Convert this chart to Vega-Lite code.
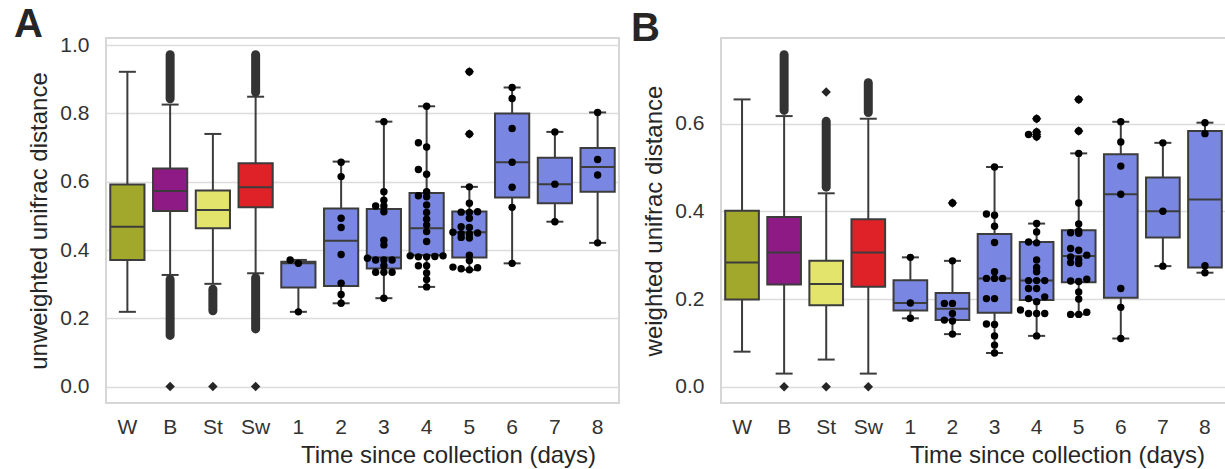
{
  "$schema": "https://vega.github.io/schema/vega-lite/v6.json",
  "padding": {"left": 13, "top": 4, "right": 0, "bottom": 0},
  "bounds": "flush",
  "spacing": 102,
  "config": {
    "font": "Liberation Sans",
    "view": {"stroke": "#d6d6d6", "strokeWidth": 2},
    "axis": {"labelFont": "Liberation Sans", "labelFontSize": 21, "labelColor": "#333333", "titleFont": "Liberation Sans", "titleFontSize": 24, "titleFontWeight": "normal", "titleColor": "#262626", "ticks": false, "domain": false, "gridColor": "#dcdcdc", "gridWidth": 1.5},
    "axisX": {"labelPadding": 13},
    "axisY": {"labelPadding": 17},
    "title": {"font": "Liberation Sans", "fontSize": 40, "fontWeight": "bold", "color": "#262626", "anchor": "start", "frame": "group"}
  },
  "datasets": {
    "boxA": [
      {"g": "W", "lo": 0.219, "q1": 0.371, "med": 0.468, "q3": 0.592, "hi": 0.922},
      {"g": "B", "lo": 0.327, "q1": 0.514, "med": 0.573, "q3": 0.639, "hi": 0.826},
      {"g": "St", "lo": 0.301, "q1": 0.464, "med": 0.517, "q3": 0.574, "hi": 0.740},
      {"g": "Sw", "lo": 0.332, "q1": 0.525, "med": 0.584, "q3": 0.654, "hi": 0.849},
      {"g": "1", "lo": 0.219, "q1": 0.290, "med": 0.361, "q3": 0.366, "hi": 0.371},
      {"g": "2", "lo": 0.244, "q1": 0.295, "med": 0.427, "q3": 0.522, "hi": 0.659},
      {"g": "3", "lo": 0.259, "q1": 0.346, "med": 0.378, "q3": 0.520, "hi": 0.776},
      {"g": "4", "lo": 0.292, "q1": 0.385, "med": 0.464, "q3": 0.567, "hi": 0.821},
      {"g": "5", "lo": 0.342, "q1": 0.378, "med": 0.452, "q3": 0.513, "hi": 0.585},
      {"g": "6", "lo": 0.361, "q1": 0.554, "med": 0.657, "q3": 0.800, "hi": 0.876},
      {"g": "7", "lo": 0.483, "q1": 0.537, "med": 0.593, "q3": 0.670, "hi": 0.746},
      {"g": "8", "lo": 0.421, "q1": 0.571, "med": 0.643, "q3": 0.699, "hi": 0.803}
    ],
    "boxB": [
      {"g": "W", "lo": 0.080, "q1": 0.199, "med": 0.283, "q3": 0.401, "hi": 0.655},
      {"g": "B", "lo": 0.030, "q1": 0.233, "med": 0.306, "q3": 0.387, "hi": 0.617},
      {"g": "St", "lo": 0.062, "q1": 0.186, "med": 0.234, "q3": 0.287, "hi": 0.441},
      {"g": "Sw", "lo": 0.030, "q1": 0.228, "med": 0.306, "q3": 0.382, "hi": 0.611},
      {"g": "1", "lo": 0.156, "q1": 0.174, "med": 0.191, "q3": 0.243, "hi": 0.295},
      {"g": "2", "lo": 0.120, "q1": 0.152, "med": 0.178, "q3": 0.214, "hi": 0.287},
      {"g": "3", "lo": 0.077, "q1": 0.169, "med": 0.247, "q3": 0.348, "hi": 0.501},
      {"g": "4", "lo": 0.116, "q1": 0.198, "med": 0.242, "q3": 0.330, "hi": 0.372},
      {"g": "5", "lo": 0.165, "q1": 0.238, "med": 0.298, "q3": 0.357, "hi": 0.532},
      {"g": "6", "lo": 0.110, "q1": 0.203, "med": 0.439, "q3": 0.530, "hi": 0.604},
      {"g": "7", "lo": 0.275, "q1": 0.340, "med": 0.400, "q3": 0.477, "hi": 0.556},
      {"g": "8", "lo": 0.260, "q1": 0.272, "med": 0.427, "q3": 0.583, "hi": 0.602}
    ],
    "flA": [
      {"g": "B", "lo": 0.843, "hi": 0.972},
      {"g": "B", "lo": 0.150, "hi": 0.314},
      {"g": "St", "lo": 0.222, "hi": 0.285},
      {"g": "Sw", "lo": 0.862, "hi": 0.972},
      {"g": "Sw", "lo": 0.169, "hi": 0.319}
    ],
    "flB": [
      {"g": "B", "lo": 0.630, "hi": 0.757},
      {"g": "St", "lo": 0.455, "hi": 0.605},
      {"g": "Sw", "lo": 0.625, "hi": 0.693}
    ],
    "outA": [
      {"g": "B", "v": 0.0}, {"g": "St", "v": 0.0}, {"g": "Sw", "v": 0.0},
      {"g": "5", "v": 0.922}, {"g": "5", "v": 0.740}
    ],
    "outB": [
      {"g": "B", "v": 0.0}, {"g": "St", "v": 0.0}, {"g": "Sw", "v": 0.0},
      {"g": "St", "v": 0.672}, {"g": "2", "v": 0.419},
      {"g": "4", "v": 0.611}, {"g": "4", "v": 0.581}, {"g": "4", "v": 0.575}, {"g": "4", "v": 0.570},
      {"g": "5", "v": 0.655}, {"g": "5", "v": 0.583}
    ],
    "ptsA": [
      {"g": "1", "v": 0.219}, {"g": "1", "v": 0.361}, {"g": "1", "v": 0.371},
      {"g": "2", "v": 0.244}, {"g": "2", "v": 0.270}, {"g": "2", "v": 0.303}, {"g": "2", "v": 0.387}, {"g": "2", "v": 0.466}, {"g": "2", "v": 0.493}, {"g": "2", "v": 0.615}, {"g": "2", "v": 0.657},
      {"g": "3", "v": 0.259}, {"g": "3", "v": 0.335}, {"g": "3", "v": 0.335}, {"g": "3", "v": 0.335}, {"g": "3", "v": 0.354}, {"g": "3", "v": 0.371}, {"g": "3", "v": 0.371}, {"g": "3", "v": 0.371}, {"g": "3", "v": 0.376}, {"g": "3", "v": 0.415}, {"g": "3", "v": 0.429}, {"g": "3", "v": 0.512}, {"g": "3", "v": 0.529}, {"g": "3", "v": 0.529}, {"g": "3", "v": 0.546}, {"g": "3", "v": 0.571}, {"g": "3", "v": 0.776},
      {"g": "4", "v": 0.292}, {"g": "4", "v": 0.314}, {"g": "4", "v": 0.333}, {"g": "4", "v": 0.354}, {"g": "4", "v": 0.354}, {"g": "4", "v": 0.380}, {"g": "4", "v": 0.380}, {"g": "4", "v": 0.381}, {"g": "4", "v": 0.383}, {"g": "4", "v": 0.383}, {"g": "4", "v": 0.425}, {"g": "4", "v": 0.454}, {"g": "4", "v": 0.473}, {"g": "4", "v": 0.490}, {"g": "4", "v": 0.510}, {"g": "4", "v": 0.532}, {"g": "4", "v": 0.556}, {"g": "4", "v": 0.559}, {"g": "4", "v": 0.571}, {"g": "4", "v": 0.622}, {"g": "4", "v": 0.636}, {"g": "4", "v": 0.702}, {"g": "4", "v": 0.714}, {"g": "4", "v": 0.821},
      {"g": "5", "v": 0.342}, {"g": "5", "v": 0.345}, {"g": "5", "v": 0.348}, {"g": "5", "v": 0.350}, {"g": "5", "v": 0.369}, {"g": "5", "v": 0.385}, {"g": "5", "v": 0.435}, {"g": "5", "v": 0.437}, {"g": "5", "v": 0.447}, {"g": "5", "v": 0.448}, {"g": "5", "v": 0.450}, {"g": "5", "v": 0.452}, {"g": "5", "v": 0.466}, {"g": "5", "v": 0.468}, {"g": "5", "v": 0.493}, {"g": "5", "v": 0.510}, {"g": "5", "v": 0.511}, {"g": "5", "v": 0.512}, {"g": "5", "v": 0.537}, {"g": "5", "v": 0.585}, {"g": "5", "v": 0.740}, {"g": "5", "v": 0.922},
      {"g": "6", "v": 0.361}, {"g": "6", "v": 0.525}, {"g": "6", "v": 0.584}, {"g": "6", "v": 0.657}, {"g": "6", "v": 0.756}, {"g": "6", "v": 0.844}, {"g": "6", "v": 0.876},
      {"g": "7", "v": 0.483}, {"g": "7", "v": 0.593}, {"g": "7", "v": 0.746},
      {"g": "8", "v": 0.421}, {"g": "8", "v": 0.620}, {"g": "8", "v": 0.665}, {"g": "8", "v": 0.803}
    ],
    "ptsB": [
      {"g": "1", "v": 0.156}, {"g": "1", "v": 0.191}, {"g": "1", "v": 0.295},
      {"g": "2", "v": 0.120}, {"g": "2", "v": 0.150}, {"g": "2", "v": 0.152}, {"g": "2", "v": 0.167}, {"g": "2", "v": 0.190}, {"g": "2", "v": 0.190}, {"g": "2", "v": 0.287}, {"g": "2", "v": 0.419},
      {"g": "3", "v": 0.077}, {"g": "3", "v": 0.095}, {"g": "3", "v": 0.116}, {"g": "3", "v": 0.142}, {"g": "3", "v": 0.143}, {"g": "3", "v": 0.201}, {"g": "3", "v": 0.201}, {"g": "3", "v": 0.247}, {"g": "3", "v": 0.247}, {"g": "3", "v": 0.247}, {"g": "3", "v": 0.262}, {"g": "3", "v": 0.329}, {"g": "3", "v": 0.366}, {"g": "3", "v": 0.391}, {"g": "3", "v": 0.394}, {"g": "3", "v": 0.501},
      {"g": "4", "v": 0.116}, {"g": "4", "v": 0.167}, {"g": "4", "v": 0.167}, {"g": "4", "v": 0.167}, {"g": "4", "v": 0.175}, {"g": "4", "v": 0.194}, {"g": "4", "v": 0.201}, {"g": "4", "v": 0.205}, {"g": "4", "v": 0.224}, {"g": "4", "v": 0.224}, {"g": "4", "v": 0.242}, {"g": "4", "v": 0.242}, {"g": "4", "v": 0.242}, {"g": "4", "v": 0.262}, {"g": "4", "v": 0.272}, {"g": "4", "v": 0.289}, {"g": "4", "v": 0.328}, {"g": "4", "v": 0.330}, {"g": "4", "v": 0.353}, {"g": "4", "v": 0.372}, {"g": "4", "v": 0.570}, {"g": "4", "v": 0.575}, {"g": "4", "v": 0.581}, {"g": "4", "v": 0.611},
      {"g": "5", "v": 0.165}, {"g": "5", "v": 0.165}, {"g": "5", "v": 0.170}, {"g": "5", "v": 0.200}, {"g": "5", "v": 0.216}, {"g": "5", "v": 0.240}, {"g": "5", "v": 0.241}, {"g": "5", "v": 0.245}, {"g": "5", "v": 0.281}, {"g": "5", "v": 0.283}, {"g": "5", "v": 0.290}, {"g": "5", "v": 0.296}, {"g": "5", "v": 0.300}, {"g": "5", "v": 0.311}, {"g": "5", "v": 0.315}, {"g": "5", "v": 0.350}, {"g": "5", "v": 0.351}, {"g": "5", "v": 0.355}, {"g": "5", "v": 0.371}, {"g": "5", "v": 0.419}, {"g": "5", "v": 0.532}, {"g": "5", "v": 0.583}, {"g": "5", "v": 0.655},
      {"g": "6", "v": 0.110}, {"g": "6", "v": 0.181}, {"g": "6", "v": 0.224}, {"g": "6", "v": 0.439}, {"g": "6", "v": 0.503}, {"g": "6", "v": 0.558}, {"g": "6", "v": 0.604},
      {"g": "7", "v": 0.275}, {"g": "7", "v": 0.400}, {"g": "7", "v": 0.556},
      {"g": "8", "v": 0.260}, {"g": "8", "v": 0.276}, {"g": "8", "v": 0.577}, {"g": "8", "v": 0.602}
    ]
  },
  "hconcat": [
    {
      "width": 513,
      "height": 365,
      "title": {"text": "A", "dx": -92, "offset": -11},
      "resolve": {"scale": {"xOffset": "independent"}},
      "encoding": {
        "x": {"field": "g", "type": "nominal", "sort": ["W", "B", "St", "Sw", "1", "2", "3", "4", "5", "6", "7", "8"],
          "scale": {"domain": ["W", "B", "St", "Sw", "1", "2", "3", "4", "5", "6", "7", "8"], "paddingInner": 0, "paddingOuter": 0},
          "axis": {"labelAngle": 0, "title": "Time since collection (days)", "titleX": 342, "titleAlign": "center", "titlePadding": 6, "grid": false}}
      },
      "layer": [
        {"data": {"name": "boxA"}, "mark": {"type": "rule", "color": "#3c3c3c", "strokeWidth": 2},
          "encoding": {"y": {"field": "lo", "type": "quantitative", "scale": {"domain": [-0.048, 1.021], "nice": false, "zero": false},
            "axis": {"values": [0, 0.2, 0.4, 0.6, 0.8, 1.0], "format": ".1f", "title": "unweighted unifrac distance", "titlePadding": 8}},
            "y2": {"field": "hi"}}},
        {"data": {"name": "boxA"}, "mark": {"type": "bar", "width": {"band": 0.8}, "stroke": "#3c3c3c", "strokeWidth": 2},
          "encoding": {"y": {"field": "q1", "type": "quantitative", "scale": {"domain": [-0.048, 1.021], "nice": false, "zero": false},
            "axis": {"values": [0, 0.2, 0.4, 0.6, 0.8, 1.0], "format": ".1f", "title": "unweighted unifrac distance", "titlePadding": 8}},
            "y2": {"field": "q3"},
            "fill": {"field": "g", "type": "nominal", "legend": null,
              "scale": {"domain": ["W", "B", "St", "Sw", "1", "2", "3", "4", "5", "6", "7", "8"],
                "range": ["#a2a82b", "#8e1b85", "#e3e46b", "#df2128", "#7a87e2", "#7a87e2", "#7a87e2", "#7a87e2", "#7a87e2", "#7a87e2", "#7a87e2", "#7a87e2"]}}}},
        {"data": {"name": "boxA"}, "mark": {"type": "tick", "color": "#3c3c3c", "size": 34, "thickness": 2, "opacity": 1},
          "encoding": {"y": {"field": "med", "type": "quantitative", "scale": {"domain": [-0.048, 1.021], "nice": false, "zero": false},
            "axis": {"values": [0, 0.2, 0.4, 0.6, 0.8, 1.0], "format": ".1f", "title": "unweighted unifrac distance", "titlePadding": 8}}}},
        {"data": {"name": "boxA"}, "mark": {"type": "tick", "color": "#3c3c3c", "size": 17, "thickness": 2, "opacity": 1},
          "encoding": {"y": {"field": "lo", "type": "quantitative", "scale": {"domain": [-0.048, 1.021], "nice": false, "zero": false},
            "axis": {"values": [0, 0.2, 0.4, 0.6, 0.8, 1.0], "format": ".1f", "title": "unweighted unifrac distance", "titlePadding": 8}}}},
        {"data": {"name": "boxA"}, "mark": {"type": "tick", "color": "#3c3c3c", "size": 17, "thickness": 2, "opacity": 1},
          "encoding": {"y": {"field": "hi", "type": "quantitative", "scale": {"domain": [-0.048, 1.021], "nice": false, "zero": false},
            "axis": {"values": [0, 0.2, 0.4, 0.6, 0.8, 1.0], "format": ".1f", "title": "unweighted unifrac distance", "titlePadding": 8}}}},
        {"data": {"name": "flA"}, "mark": {"type": "rule", "color": "#333333", "strokeWidth": 9, "strokeCap": "round"},
          "encoding": {"y": {"field": "lo", "type": "quantitative", "scale": {"domain": [-0.048, 1.021], "nice": false, "zero": false},
            "axis": {"values": [0, 0.2, 0.4, 0.6, 0.8, 1.0], "format": ".1f", "title": "unweighted unifrac distance", "titlePadding": 8}}, "y2": {"field": "hi"}}},
        {"data": {"name": "outA"}, "mark": {"type": "point", "shape": "diamond", "filled": true, "color": "#262626", "size": 90, "opacity": 1},
          "encoding": {"y": {"field": "v", "type": "quantitative", "scale": {"domain": [-0.048, 1.021], "nice": false, "zero": false},
            "axis": {"values": [0, 0.2, 0.4, 0.6, 0.8, 1.0], "format": ".1f", "title": "unweighted unifrac distance", "titlePadding": 8}}}},
        {"data": {"name": "ptsA"},
          "transform": [
            {"bin": {"step": 0.02}, "field": "v", "as": "vb"},
            {"window": [{"op": "row_number", "as": "k"}], "groupby": ["g", "vb"], "sort": [{"field": "v"}]}
          ],
          "mark": {"type": "point", "shape": "circle", "filled": true, "color": "#000000", "size": 55, "opacity": 1},
          "encoding": {
            "y": {"field": "v", "type": "quantitative", "scale": {"domain": [-0.048, 1.021], "nice": false, "zero": false},
              "axis": {"values": [0, 0.2, 0.4, 0.6, 0.8, 1.0], "format": ".1f", "title": "unweighted unifrac distance", "titlePadding": 8}},
            "xOffset": {"field": "k", "type": "nominal", "scale": {"type": "point", "domain": [4, 2, 1, 3, 5], "padding": 0.6}}
          }}
      ]
    },
    {
      "width": 505,
      "height": 365,
      "title": {"text": "B", "dx": -90, "offset": -11},
      "resolve": {"scale": {"xOffset": "independent"}},
      "encoding": {
        "x": {"field": "g", "type": "nominal", "sort": ["W", "B", "St", "Sw", "1", "2", "3", "4", "5", "6", "7", "8"],
          "scale": {"domain": ["W", "B", "St", "Sw", "1", "2", "3", "4", "5", "6", "7", "8"], "paddingInner": 0, "paddingOuter": 0},
          "axis": {"labelAngle": 0, "title": "Time since collection (days)", "titleX": 336, "titleAlign": "center", "titlePadding": 6, "grid": false}}
      },
      "layer": [
        {"data": {"name": "boxB"}, "mark": {"type": "rule", "color": "#3c3c3c", "strokeWidth": 2},
          "encoding": {"y": {"field": "lo", "type": "quantitative", "scale": {"domain": [-0.037, 0.795], "nice": false, "zero": false},
            "axis": {"values": [0, 0.2, 0.4, 0.6], "format": ".1f", "title": "weighted unifrac distance", "titlePadding": 8}},
            "y2": {"field": "hi"}}},
        {"data": {"name": "boxB"}, "mark": {"type": "bar", "width": {"band": 0.8}, "stroke": "#3c3c3c", "strokeWidth": 2},
          "encoding": {"y": {"field": "q1", "type": "quantitative", "scale": {"domain": [-0.037, 0.795], "nice": false, "zero": false},
            "axis": {"values": [0, 0.2, 0.4, 0.6], "format": ".1f", "title": "weighted unifrac distance", "titlePadding": 8}},
            "y2": {"field": "q3"},
            "fill": {"field": "g", "type": "nominal", "legend": null,
              "scale": {"domain": ["W", "B", "St", "Sw", "1", "2", "3", "4", "5", "6", "7", "8"],
                "range": ["#a2a82b", "#8e1b85", "#e3e46b", "#df2128", "#7a87e2", "#7a87e2", "#7a87e2", "#7a87e2", "#7a87e2", "#7a87e2", "#7a87e2", "#7a87e2"]}}}},
        {"data": {"name": "boxB"}, "mark": {"type": "tick", "color": "#3c3c3c", "size": 34, "thickness": 2, "opacity": 1},
          "encoding": {"y": {"field": "med", "type": "quantitative", "scale": {"domain": [-0.037, 0.795], "nice": false, "zero": false},
            "axis": {"values": [0, 0.2, 0.4, 0.6], "format": ".1f", "title": "weighted unifrac distance", "titlePadding": 8}}}},
        {"data": {"name": "boxB"}, "mark": {"type": "tick", "color": "#3c3c3c", "size": 17, "thickness": 2, "opacity": 1},
          "encoding": {"y": {"field": "lo", "type": "quantitative", "scale": {"domain": [-0.037, 0.795], "nice": false, "zero": false},
            "axis": {"values": [0, 0.2, 0.4, 0.6], "format": ".1f", "title": "weighted unifrac distance", "titlePadding": 8}}}},
        {"data": {"name": "boxB"}, "mark": {"type": "tick", "color": "#3c3c3c", "size": 17, "thickness": 2, "opacity": 1},
          "encoding": {"y": {"field": "hi", "type": "quantitative", "scale": {"domain": [-0.037, 0.795], "nice": false, "zero": false},
            "axis": {"values": [0, 0.2, 0.4, 0.6], "format": ".1f", "title": "weighted unifrac distance", "titlePadding": 8}}}},
        {"data": {"name": "flB"}, "mark": {"type": "rule", "color": "#333333", "strokeWidth": 9, "strokeCap": "round"},
          "encoding": {"y": {"field": "lo", "type": "quantitative", "scale": {"domain": [-0.037, 0.795], "nice": false, "zero": false},
            "axis": {"values": [0, 0.2, 0.4, 0.6], "format": ".1f", "title": "weighted unifrac distance", "titlePadding": 8}}, "y2": {"field": "hi"}}},
        {"data": {"name": "outB"}, "mark": {"type": "point", "shape": "diamond", "filled": true, "color": "#262626", "size": 90, "opacity": 1},
          "encoding": {"y": {"field": "v", "type": "quantitative", "scale": {"domain": [-0.037, 0.795], "nice": false, "zero": false},
            "axis": {"values": [0, 0.2, 0.4, 0.6], "format": ".1f", "title": "weighted unifrac distance", "titlePadding": 8}}}},
        {"data": {"name": "ptsB"},
          "transform": [
            {"bin": {"step": 0.016}, "field": "v", "as": "vb"},
            {"window": [{"op": "row_number", "as": "k"}], "groupby": ["g", "vb"], "sort": [{"field": "v"}]}
          ],
          "mark": {"type": "point", "shape": "circle", "filled": true, "color": "#000000", "size": 55, "opacity": 1},
          "encoding": {
            "y": {"field": "v", "type": "quantitative", "scale": {"domain": [-0.037, 0.795], "nice": false, "zero": false},
              "axis": {"values": [0, 0.2, 0.4, 0.6], "format": ".1f", "title": "weighted unifrac distance", "titlePadding": 8}},
            "xOffset": {"field": "k", "type": "nominal", "scale": {"type": "point", "domain": [4, 2, 1, 3, 5], "padding": 0.6}}
          }}
      ]
    }
  ]
}
